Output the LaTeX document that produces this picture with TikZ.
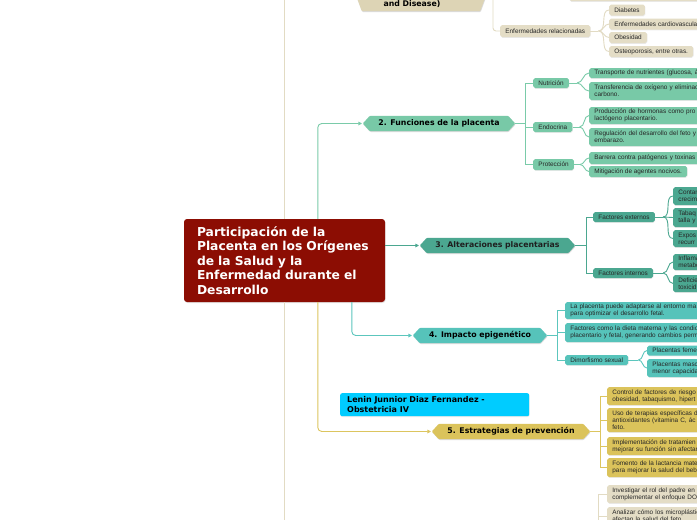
\documentclass[tikz,border=0pt]{standalone}
\usepackage{fontspec}
\setmainfont{Liberation Sans}
\newfontfamily\dvs{DejaVu Sans}
\usetikzlibrary{calc,arrows.meta,shadows}
\pgfdeclarelayer{bottom}
\pgfdeclarelayer{background}
\pgfsetlayers{bottom,background,main}
\definecolor{rootred}{HTML}{8C0D03}
\definecolor{beigeF}{HTML}{E4DDC6}
\definecolor{beigeH}{HTML}{DDD4B5}
\definecolor{beigeL}{HTML}{E2DBC3}
\definecolor{mintF}{HTML}{78C9A7}
\definecolor{mintL}{HTML}{7ACBA9}
\definecolor{tealF}{HTML}{4BA790}
\definecolor{tealL}{HTML}{4BA790}
\definecolor{turqF}{HTML}{56C3BA}
\definecolor{turqL}{HTML}{5CC6BD}
\definecolor{mustF}{HTML}{DBC35B}
\definecolor{mustL}{HTML}{DCC55E}
\definecolor{cyanF}{HTML}{00CCFF}
\definecolor{txt}{HTML}{262626}
\newcommand{\hexfill}[2]{%
  \begin{pgfonlayer}{background}
  \fill[black, opacity=0.14, rounded corners=1pt, transform canvas={xshift=0.5pt,yshift=-0.9pt}] (#1.west) -- ([xshift=7pt]#1.north west) -- ([xshift=-7pt]#1.north east) -- (#1.east) -- ([xshift=-7pt]#1.south east) -- ([xshift=7pt]#1.south west) -- cycle;
  \fill[#2, rounded corners=1pt] (#1.west) -- ([xshift=7pt]#1.north west) -- ([xshift=-7pt]#1.north east) -- (#1.east) -- ([xshift=-7pt]#1.south east) -- ([xshift=7pt]#1.south west) -- cycle;
  \end{pgfonlayer}}
\tikzset{
  hexnode/.style={inner sep=0pt, minimum height=15pt, font=\dvs\bfseries\fontsize{7.8}{9}\selectfont, text=black},
  leaf/.style={anchor=west, rounded corners=1.8pt, inner xsep=5.2pt, inner ysep=1pt, font=\fontsize{6.4}{7}\selectfont, text=txt, align=left, drop shadow={shadow xshift=0.4pt, shadow yshift=-0.8pt, opacity=0.16}},
  wideleaf/.style={text width=200pt},
  mh/.style={minimum height=#1pt},
  cline/.style={line width=0.9pt},
  arr/.style={-{Triangle[length=3.6pt,width=3.6pt]}, shorten >=0.8pt},
}
\begin{document}
\begin{tikzpicture}[x=1pt,y=-1pt]
\useasboundingbox (0,0) rectangle (697,520);
\begin{pgfonlayer}{bottom}
\fill[white] (0,0) rectangle (697,520);
\end{pgfonlayer}
\clip (0,0) rectangle (697,520);

% root
\node[fill=rootred, rounded corners=3pt, text=white, font=\dvs\bfseries\fontsize{12.3}{14.5}\selectfont, align=left, text width=175pt, inner xsep=13pt, inner ysep=0pt, minimum height=83pt, minimum width=201pt, drop shadow={shadow xshift=0.6pt, shadow yshift=-1pt, opacity=0.2}] (root) at (284.5,260.5) {Participación de la\\Placenta en los Orígenes\\de la Salud y la\\Enfermedad durante el\\Desarrollo};

% main topics
\node[hexnode, minimum width=132pt, minimum height=0pt, text height=33pt, text depth=5pt, anchor=base] (n1) at (421,6) {and Disease)\hspace*{18pt}};
\hexfill{n1}{beigeH}
\node[hexnode, minimum width=152pt] (n2) at (439,123.5) {2. Funciones de la placenta};
\hexfill{n2}{mintF}
\node[hexnode, minimum width=155pt, text={black!88}] (n3) at (497.5,245.5) {3. Alteraciones placentarias};
\hexfill{n3}{tealF}
\node[hexnode, minimum width=134pt] (n4) at (480,335.5) {4. Impacto epigenético};
\hexfill{n4}{turqF}
\node[hexnode, minimum width=158pt] (n5) at (511,431.5) {5. Estrategias de prevención};
\hexfill{n5}{mustF}

% author box
\node[fill=cyanF, rounded corners=2pt, anchor=north west, font=\dvs\bfseries\fontsize{8}{10}\selectfont, text=black, align=left, text width=175pt, inner xsep=7pt, inner ysep=0pt, minimum height=23pt, drop shadow={shadow xshift=0.4pt, shadow yshift=-0.8pt, opacity=0.16}] (lenin) at (340,393) {Lenin Junnior Diaz Fernandez -\\Obstetricia IV};

% top beige group
\node[leaf, fill=beigeF, mh=14, wideleaf] (d0) at (569,-6) {};
\node[leaf, fill=beigeF, mh=12] (er) at (500,31) {Enfermedades relacionadas};
\node[leaf, fill=beigeF, mh=11] (d1) at (609,10) {Diabetes};
\node[leaf, fill=beigeF, mh=11, wideleaf] (d2) at (609,24) {Enfermedades cardiovascula};
\node[leaf, fill=beigeF, mh=11] (d3) at (609,37.5) {Obesidad};
\node[leaf, fill=beigeF, mh=11] (d4) at (609,51.5) {Osteoporosis, entre otras.};

% group 2
\node[leaf, fill=mintF, mh=10] (nut) at (533,83) {Nutrición};
\node[leaf, fill=mintF, mh=10] (endo) at (533,127) {Endocrina};
\node[leaf, fill=mintF, mh=11] (prot) at (533,164.5) {Protección};
\node[leaf, fill=mintF, mh=10, wideleaf] (t1) at (589,73) {Transporte de nutrientes (glucosa, á};
\node[leaf, fill=mintF, mh=18, wideleaf] (t2) at (589,91) {Transferencia de oxígeno y eliminac\\carbono.};
\node[leaf, fill=mintF, mh=17, wideleaf] (t3) at (589,115.5) {Producción de hormonas como pro\\lactógeno placentario.};
\node[leaf, fill=mintF, mh=18, wideleaf] (t4) at (589,137) {Regulación del desarrollo del feto y\\embarazo.};
\node[leaf, fill=mintF, mh=12, wideleaf] (t5) at (589,158) {Barrera contra patógenos y toxinas};
\node[leaf, fill=mintF, mh=11] (t6) at (589,171.5) {Mitigación de agentes nocivos.};

% group 3
\node[leaf, fill=tealF, mh=10] (fe) at (593,217) {Factores externos};
\node[leaf, fill=tealF, mh=10] (fi) at (593,273) {Factores internos};
\node[leaf, fill=tealF, mh=18, wideleaf] (c1) at (673,196) {Contam\\crecim};
\node[leaf, fill=tealF, mh=19, wideleaf] (c2) at (673,217.5) {Tabaq\\talla y};
\node[leaf, fill=tealF, mh=17, wideleaf] (c3) at (673,238.5) {Expos\\recurr};
\node[leaf, fill=tealF, mh=16, wideleaf] (c4) at (673,262) {Inflama\\metabo};
\node[leaf, fill=tealF, mh=17, wideleaf] (c5) at (673,283.5) {Deficie\\toxicid};

% group 4
\node[leaf, fill=turqF, mh=17, wideleaf] (p1) at (565,310.5) {La placenta puede adaptarse al entorno ma\\para optimizar el desarrollo fetal.};
\node[leaf, fill=turqF, mh=19, wideleaf] (p2) at (565,332.5) {Factores como la dieta materna y las condicio\\placentario y fetal, generando cambios perm};
\node[leaf, fill=turqF, mh=10] (dim) at (565,360) {Dimorfismo sexual};
\node[leaf, fill=turqF, mh=10, wideleaf] (pf) at (647,350.5) {Placentas feme};
\node[leaf, fill=turqF, mh=18, wideleaf] (pm) at (647,368) {Placentas masc\\menor capacida};

% group 5
\node[leaf, fill=mustF, mh=18, wideleaf] (s1) at (607,396) {Control de factores de riesgo\\obesidad, tabaquismo, hipert};
\node[leaf, fill=mustF, mh=24, wideleaf] (s2) at (607,420) {Uso de terapias específicas d\\antioxidantes (vitamina C, ác\\feto.};
\node[leaf, fill=mustF, mh=18, wideleaf] (s3) at (607,446) {Implementación de tratamien\\mejorar su función sin afectar};
\node[leaf, fill=mustF, mh=19, wideleaf] (s4) at (607,467.5) {Fomento de la lactancia mate\\para mejorar la salud del beb};

% bottom beige group
\node[leaf, fill=beigeF, mh=18, wideleaf] (b1) at (607,494) {Investigar el rol del padre en e\\complementar el enfoque DOH};
\node[leaf, fill=beigeF, mh=18, wideleaf] (b2) at (607,516) {Analizar cómo los microplástico\\afectan la salud del feto.};

% connectors from root
\coordinate (up1) at (284.5,-10);
\coordinate (dn6) at (284.5,530);
\draw[beigeL, cline] (root.north) -- (up1);
\draw[beigeL, cline] (root.south) -- (dn6);
\draw[mintL, cline, arr, rounded corners=4pt] ([xshift=134pt]root.north west) |- (n2.west);
\draw[tealL, cline, arr] (root.east |- n3.west) -- (n3.west);
\draw[turqL, cline, arr, rounded corners=4pt] ([xshift=168pt]root.south west) |- (n4.west);
\draw[mustL, cline, arr, rounded corners=4pt] ([xshift=134pt]root.south west) |- (n5.west);

% top beige connectors
\coordinate (j1) at (493,-8);
\draw[beigeL, cline, rounded corners=3pt] (n1.east) -- (j1) |- (er.west);
\draw[beigeL, cline] (er.east) -- ++(8,0) coordinate (jer);
\foreach \d in {d1,d2,d3,d4} \draw[beigeL, cline] (jer) to[out=0,in=180] (\d.west);

% group 2 connectors
\draw[mintL, cline] (n2.east) -- ++(10,0) coordinate (j2);
\foreach \d in {nut,endo,prot} \draw[mintL, cline] (j2) |- (\d.west);
\draw[mintL, cline] (nut.east) -- ++(8,0) coordinate (jnut);
\foreach \d in {t1,t2} \draw[mintL, cline] (jnut) to[out=0,in=180] (\d.west);
\draw[mintL, cline] (endo.east) -- ++(7,0) coordinate (jendo);
\foreach \d in {t3,t4} \draw[mintL, cline] (jendo) to[out=0,in=180] (\d.west);
\draw[mintL, cline] (prot.east) -- ++(6,0) coordinate (jprot);
\foreach \d in {t5,t6} \draw[mintL, cline] (jprot) to[out=0,in=180] (\d.west);

% group 3 connectors
\draw[tealL, cline] (n3.east) -- ++(11,0) coordinate (j3);
\foreach \d in {fe,fi} \draw[tealL, cline] (j3) |- (\d.west);
\draw[tealL, cline] (fe.east) -- ++(8,0) coordinate (jfe);
\foreach \d in {c1,c2,c3} \draw[tealL, cline] (jfe) to[out=0,in=180] (\d.west);
\draw[tealL, cline] (fi.east) -- ++(10,0) coordinate (jfi);
\foreach \d in {c4,c5} \draw[tealL, cline] (jfi) to[out=0,in=180] (\d.west);

% group 4 connectors
\draw[turqL, cline] (n4.east) -- ++(10,0) coordinate (j4);
\foreach \d in {p1,p2,dim} \draw[turqL, cline] (j4) |- (\d.west);
\draw[turqL, cline] (dim.east) -- ++(10,0) coordinate (jdim);
\foreach \d in {pf,pm} \draw[turqL, cline] (jdim) to[out=0,in=180] (\d.west);

% group 5 connectors
\draw[mustL, cline] (n5.east) -- ++(10,0) coordinate (j5);
\foreach \d in {s1,s2,s3,s4} \draw[mustL, cline] (j5) |- (\d.west);

% bottom beige connectors
\coordinate (j6) at (598,530);
\foreach \d in {b1,b2} \draw[beigeL, cline] (j6) |- (\d.west);
\end{tikzpicture}
\end{document}
